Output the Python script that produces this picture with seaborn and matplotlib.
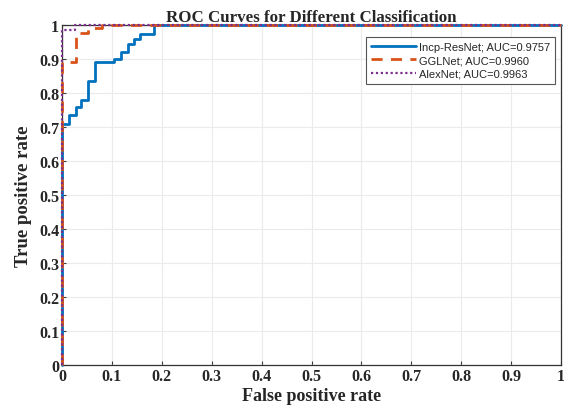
import matplotlib
matplotlib.use("Agg")
import matplotlib.pyplot as plt
import seaborn as sns
import pandas as pd

# ROC vertices (step corners)
incp_fpr = [0, 0, 0.013, 0.027, 0.039, 0.053, 0.066, 0.105, 0.118, 0.132, 0.145, 0.156, 0.185, 1]
incp_tpr = [0, 0.71, 0.735, 0.76, 0.778, 0.835, 0.89, 0.90, 0.92, 0.945, 0.96, 0.974, 1, 1]
ggl_fpr = [0, 0, 0.027, 0.052, 0.08, 1]
ggl_tpr = [0, 0.89, 0.975, 0.99, 1, 1]
alex_fpr = [0, 0, 0.026, 1]
alex_tpr = [0, 0.985, 1, 1]
labels = ["Incp-ResNet; AUC=0.9757", "GGLNet; AUC=0.9960", "AlexNet; AUC=0.9963"]
ticks = [0, 0.1, 0.2, 0.3, 0.4, 0.5, 0.6, 0.7, 0.8, 0.9, 1]
tick_labels = ["0", "0.1", "0.2", "0.3", "0.4", "0.5", "0.6", "0.7", "0.8", "0.9", "1"]

sns.set_style("white")
fig = plt.figure(figsize=(5.64, 4.06), dpi=100)
ax = fig.add_axes([0.110, 0.0985, 0.8847, 0.8375])

styles = [("#0072BD", "-", 2.0), ("#D95319", (0, (4, 3)), 2.0), ("#7E2F8E", (0, (1, 1.2)), 1.6)]
series = [(incp_fpr, incp_tpr), (ggl_fpr, ggl_tpr), (alex_fpr, alex_tpr)]
for (fx, ty), lab, (c, ls, lw) in zip(series, labels, styles):
    df = pd.DataFrame({"fpr": fx, "tpr": ty})
    sns.lineplot(data=df, x="fpr", y="tpr", ax=ax, sort=False, estimator=None,
                 color=c, linestyle=ls, linewidth=lw, label=lab,
                 drawstyle="steps-post", clip_on=False, zorder=3)

ax.set_xlim(0, 1)
ax.set_ylim(0, 1)
ax.set_xticks(ticks)
ax.set_yticks(ticks)
serif = "Liberation Serif"
ax.set_xticklabels(tick_labels, fontfamily=serif, fontweight="bold", fontsize=11.5)
ax.set_yticklabels(tick_labels, fontfamily=serif, fontweight="bold", fontsize=11.5)
ax.tick_params(direction="in", length=3, width=0.8, color="#404040", pad=2,
               bottom=True, left=True)
ax.grid(True, color="#ebebeb", linewidth=0.8)
for s in ax.spines.values():
    s.set_color("#333333")
    s.set_linewidth(0.9)

ax.set_title("ROC Curves for Different Classification", fontfamily=serif,
             fontweight="bold", fontsize=12.2, pad=3)
ax.set_xlabel("False positive rate", fontfamily=serif, fontweight="bold", fontsize=13, labelpad=2)
ax.set_ylabel("True positive rate", fontfamily=serif, fontweight="bold", fontsize=13.5, labelpad=5)

leg = ax.legend(loc="upper right", bbox_to_anchor=(0.988, 0.965), prop={"family": "Liberation Sans", "size": 8},
                frameon=True, fancybox=False, edgecolor="#555555", framealpha=1,
                borderpad=0.45, labelspacing=0.3, handlelength=4.0, handletextpad=0.3, borderaxespad=0)
leg.get_frame().set_linewidth(0.8)

fig.savefig("out.png", dpi=100)
